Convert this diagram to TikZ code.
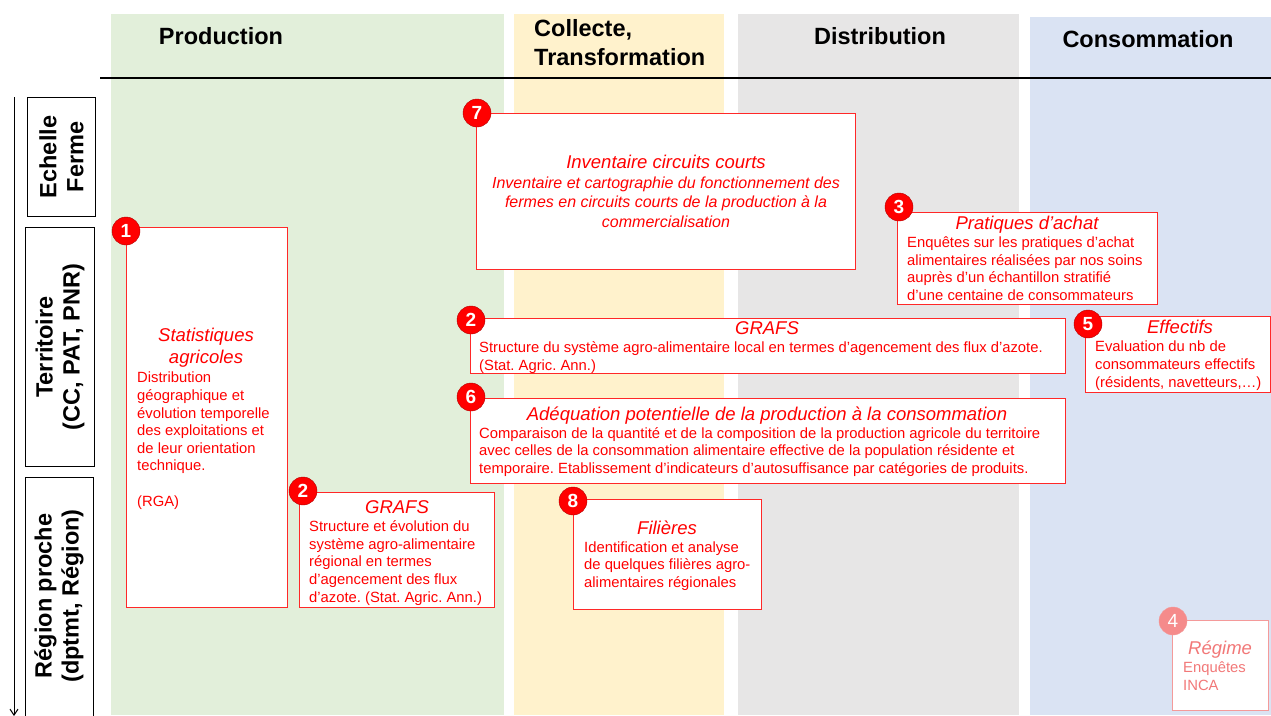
\documentclass[tikz,border=0pt]{standalone}
\usepackage{fontspec}
\setmainfont{Liberation Sans}
\usetikzlibrary{arrows.meta}
\frenchspacing
\definecolor{cgreen}{HTML}{E2EFDA}
\definecolor{cyellow}{HTML}{FFF2CC}
\definecolor{cgray}{HTML}{E7E6E6}
\definecolor{cblue}{HTML}{DAE3F3}
\definecolor{bred}{HTML}{FF2828}
\definecolor{tred}{HTML}{FF0000}
\definecolor{pale}{HTML}{F49A9A}
\definecolor{paletext}{HTML}{F27878}
\begin{document}
\begin{tikzpicture}[x=1pt,y=-1pt,
  colbg/.style={draw=none,inner sep=0,anchor=north west},
  lblbox/.style={draw=black,line width=1pt,fill=white,inner sep=0,anchor=north west},
  redbox/.style={draw=bred,line width=1.2pt,fill=white,inner sep=0,anchor=north west},
  palebox/.style={draw=pale,line width=1.2pt,fill=white,inner sep=0,anchor=north west},
  badge/.style={circle,fill=tred,draw=tred!70!black,line width=0.4pt,text=white,inner sep=0,minimum size=28pt,font=\bfseries\fontsize{19}{19}\selectfont},
  palebadge/.style={badge,fill=pale!90!red,draw=pale},
  hdr/.style={inner sep=0,anchor=base,font=\bfseries\fontsize{23.5}{29}\selectfont},
  sidelbl/.style={inner sep=0,rotate=90,align=center,font=\bfseries\fontsize{23.5}{27}\selectfont},
  ttl/.style={inner sep=0,anchor=base,align=center,text=tred,font=\itshape\fontsize{18.5}{22}\selectfont},
  bdy/.style={inner sep=0,anchor=base west,align=left,text=tred,font=\fontsize{14.8}{17.6}\selectfont\frenchspacing},
  axis/.style={line width=1.5pt,black}
]
\useasboundingbox (0,0) rectangle (1271,715);
\fill[white] (0,0) rectangle (1271,715);
% column backgrounds
\node[colbg,fill=cgreen,minimum width=393pt,minimum height=701pt] (colP) at (111,14) {};
\node[colbg,fill=cyellow,minimum width=210pt,minimum height=701pt] (colC) at (514,14) {};
\node[colbg,fill=cgray,minimum width=281pt,minimum height=701pt] (colD) at (738,14) {};
\node[colbg,fill=cblue,minimum width=241pt,minimum height=698pt] (colK) at (1030,17) {};
% headers
\node[hdr] (hP) at (221,44) {Production};
\node[hdr,anchor=base west,align=left] (hC) at (534,65) {Collecte,\\Transformation};
\node[hdr] (hD) at (880,44) {Distribution};
\node[hdr] (hK) at (1148,47) {Consommation};
% axes
\coordinate (hx0) at (100,78);
\coordinate (hx1) at (1271,78);
\draw[axis] (hx0) -- (hx1);
\coordinate (vy0) at (14,97);
\coordinate (vy1) at (14,716);
\draw[axis,line width=1pt,-{Straight Barb[length=6pt,width=8pt]}] (vy0) -- (vy1);
% side labels
\node[lblbox,minimum width=68pt,minimum height=119pt] (bE) at (27,97) {};
\node[lblbox,minimum width=69pt,minimum height=239pt] (bT) at (25,227) {};
\node[lblbox,minimum width=68pt,minimum height=242pt] (bR) at (25,477) {};
\node[sidelbl] (tE) at (bE.center) {Echelle\\Ferme};
\node[sidelbl] (tT) at (bT.center) {Territoire\\(CC, PAT, PNR)};
\node[sidelbl] (tR) at (59,596) {Région proche\\(dptmt, Région)};
% box 1
\node[redbox,minimum width=161pt,minimum height=380pt] (b1) at (126,227) {};
\node[ttl] (b1t) at (206,363) {Statistiques\\agricoles};
\node[bdy] (b1b) at (137,506) {Distribution\\géographique et\\évolution temporelle\\des exploitations et\\de leur orientation\\technique.\\[17.6pt](RGA)};
\node[badge] (n1) at (126,231) {1};
% box 7
\node[redbox,minimum width=379pt,minimum height=156pt] (b7) at (476,113) {};
\node[ttl] (b7t) at (666,168) {Inventaire circuits courts};
\node[ttl,font=\itshape\fontsize{16}{19.5}\selectfont] (b7b) at (666,227) {Inventaire et cartographie du fonctionnement des\\fermes en circuits courts de la production à la\\commercialisation};
\node[badge] (n7) at (477,113) {7};
% box 3
\node[redbox,minimum width=260pt,minimum height=92pt] (b3) at (897,212) {};
\node[ttl] (b3t) at (1027,229) {Pratiques d’achat};
\node[bdy] (b3b) at (907,300.5) {Enquêtes sur les pratiques d’achat\\alimentaires réalisées par nos soins\\auprès d’un échantillon stratifié\\d’une centaine de consommateurs};
\node[badge] (n3) at (899,207) {3};
% box 2 top
\node[redbox,minimum width=595pt,minimum height=55pt] (b2a) at (470,318) {};
\node[ttl] (b2at) at (767,334) {GRAFS};
\node[bdy] (b2ab) at (479,370) {Structure du système agro-alimentaire local en termes d’agencement des flux d’azote.\\(Stat. Agric. Ann.)};
\node[badge] (n2a) at (471,320) {2};
% box 5
\node[redbox,minimum width=185pt,minimum height=76pt] (b5) at (1085,316) {};
\node[ttl] (b5t) at (1180,333) {Effectifs};
\node[bdy] (b5b) at (1095,387) {Evaluation du nb de\\consommateurs effectifs\\(résidents, navetteurs,…)};
\node[badge] (n5) at (1088,324) {5};
% box 6
\node[redbox,minimum width=595pt,minimum height=85pt] (b6) at (470,398) {};
\node[ttl] (b6t) at (767,420) {Adéquation potentielle de la production à la consommation};
\node[bdy] (b6b) at (479,473.5) {Comparaison de la quantité et de la composition de la production agricole du territoire\\avec celles de la consommation alimentaire effective de la population résidente et\\temporaire. Etablissement d’indicateurs d’autosuffisance par catégories de produits.};
\node[badge] (n6) at (471,397) {6};
% box 2 lower
\node[redbox,minimum width=195pt,minimum height=115pt] (b2b) at (299,492) {};
\node[ttl] (b2bt) at (397,513) {GRAFS};
\node[bdy] (b2bb) at (309,602) {Structure et évolution du\\système agro-alimentaire\\régional en termes\\d’agencement des flux\\d’azote. (Stat. Agric. Ann.)};
\node[badge] (n2b) at (303,491) {2};
% box 8
\node[redbox,minimum width=188pt,minimum height=110pt] (b8) at (573,499) {};
\node[ttl] (b8t) at (667,534) {Filières};
\node[bdy] (b8b) at (584,587.5) {Identification et analyse\\de quelques filières agro-\\alimentaires régionales};
\node[badge] (n8) at (573,501) {8};
% box 4
\node[palebox,minimum width=96pt,minimum height=90pt] (b4) at (1172,620) {};
\node[ttl,anchor=base west,text=paletext] (b4t) at (1188,654) {Régime};
\node[bdy,text=paletext] (b4b) at (1183,690.5) {Enquêtes\\INCA};
\node[palebadge] (n4) at (1173,621) {\mdseries 4};
\end{tikzpicture}
\end{document}
